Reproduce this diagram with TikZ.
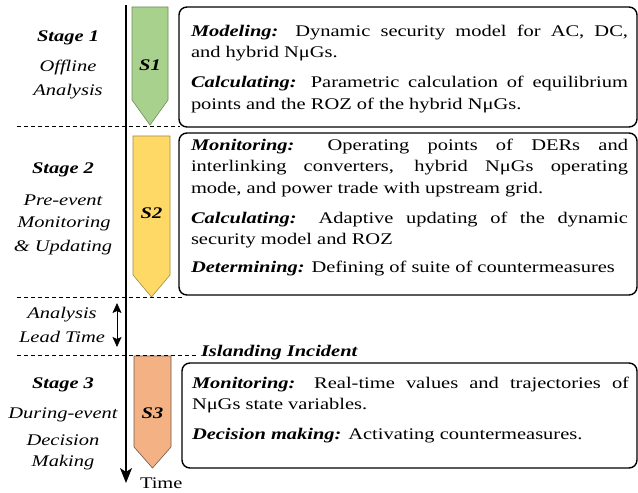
\documentclass[tikz,border=0pt]{standalone}
\usepackage{fontspec}
\setmainfont{Liberation Serif}[FakeStretch=1.26]
\usetikzlibrary{arrows.meta}
\definecolor{sAfill}{HTML}{A9D18E}
\definecolor{sAedge}{HTML}{6E8B5A}
\definecolor{sBfill}{HTML}{FFD966}
\definecolor{sBedge}{HTML}{A08A4A}
\definecolor{sCfill}{HTML}{F4B183}
\definecolor{sCedge}{HTML}{6B5A50}
\newcommand{\bodysize}{\fontsize{16.3}{21.5}\selectfont}
\newcommand{\kw}[1]{\textbf{\textit{#1}}}
\hyphenpenalty=10000
\exhyphenpenalty=10000
\tikzset{
  every node/.style={inner sep=0pt, outer sep=0pt},
  lbl/.style={font=\bodysize\itshape, anchor=center},
  lblb/.style={font=\bodysize\bfseries\itshape, anchor=center},
  descbox/.style={draw=black, line width=1.4pt, rounded corners=8bp},
  desctext/.style={font=\bodysize, text width=437bp, align=justify, anchor=north west},
  stagearrow/.style={line width=0.6pt},
  sep/.style={line width=0.7pt, dash pattern=on 4bp off 3bp},
}
\begin{document}
\begin{tikzpicture}[x=1bp,y=-1bp]
\useasboundingbox (0,0) rectangle (638,493);
% stage arrows
\draw[stagearrow, fill=sAfill, draw=sAedge] (132,7) -- (168,7) -- (168,100) -- (150,125) -- (132,100) -- cycle;
\draw[stagearrow, fill=sBfill, draw=sBedge] (133,136) -- (170,136) -- (170,275) -- (151.5,297) -- (133,275) -- cycle;
\draw[stagearrow, fill=sCfill, draw=sCedge] (134,356) -- (171,356) -- (171,447) -- (152.5,468) -- (134,447) -- cycle;
\node[lblb] (s1) at (150,65) {S1};
\node[lblb] (s2) at (151.5,213) {S2};
\node[lblb] (s3) at (152.5,413) {S3};
% dashed separators
\coordinate (d1a) at (17,126); \coordinate (d1b) at (180,126);
\coordinate (d2a) at (17,297); \coordinate (d2b) at (185,297);
\coordinate (d3a) at (17,355); \coordinate (d3b) at (196,355);
\draw[sep] (d1a) -- (d1b);
\draw[sep] (d2a) -- (d2b);
\draw[sep] (d3a) -- (d3b);
% time axis
\coordinate (ax0) at (126,5); \coordinate (ax1) at (126,483);
\draw[line width=1.4pt, -{Stealth[length=15bp,width=12bp,inset=4bp]}] (ax0) -- (ax1);
\node[font=\bodysize, anchor=base west] (time) at (140,488) {Time};
% lead time arrow
\coordinate (lt0) at (117,303); \coordinate (lt1) at (117,347);
\draw[line width=0.8pt, {Stealth[length=10bp,width=9bp,inset=2bp]}-{Stealth[length=10bp,width=9bp,inset=2bp]}] (lt0) -- (lt1);
% left labels
\node[lblb] (st1) at (68,38) {Stage 1};
\node[lbl] (st1a) at (68,68) {Offline};
\node[lbl] (st1b) at (68,92) {Analysis};
\node[lblb] (st2) at (63,170) {Stage 2};
\node[lbl] (st2a) at (63,200) {Pre-event};
\node[lbl] (st2b) at (64,224) {Monitoring};
\node[lbl] (st2c) at (63,248) {\& Updating};
\node[lbl] (lta) at (62,315) {Analysis};
\node[lbl] (ltb) at (62,337) {Lead Time};
\node[lblb] (st3) at (63,385) {Stage 3};
\node[lbl] (st3a) at (63,415) {During-event};
\node[lbl] (st3b) at (63,440) {Decision};
\node[lbl] (st3c) at (63,463) {Making};
\node[font=\bodysize\bfseries\itshape, anchor=base west] (isl) at (201,356) {Islanding Incident};
% boxes
\draw[descbox] (179,7) rectangle (637,127);
\draw[descbox] (179,133) rectangle (637,295);
\draw[descbox] (182,363) rectangle (637,468);
\node[desctext] (t1) at (191,25) {\kw{Modeling:} Dynamic security model for AC, DC,\linebreak and hybrid NμGs.\\[8.5bp]
\kw{Calculating:} Parametric calculation of equilibrium\linebreak points and the ROZ of the hybrid NμGs.};
\node[desctext] (t2) at (191,139) {\kw{Monitoring:} Operating points of DERs and\linebreak interlinking converters, hybrid NμGs operating\linebreak mode, and power trade with upstream grid.\\[8.5bp]
\kw{Calculating:} Adaptive updating of the dynamic\linebreak security model and ROZ\\[6.5bp]
\kw{Determining:} Defining of suite of countermeasures};
\node[desctext] (t3) at (192,377) {\kw{Monitoring:} Real-time values and trajectories of\linebreak NμGs state variables.\\[8.5bp]
\kw{Decision making:} Activating countermeasures.};
\end{tikzpicture}
\end{document}
